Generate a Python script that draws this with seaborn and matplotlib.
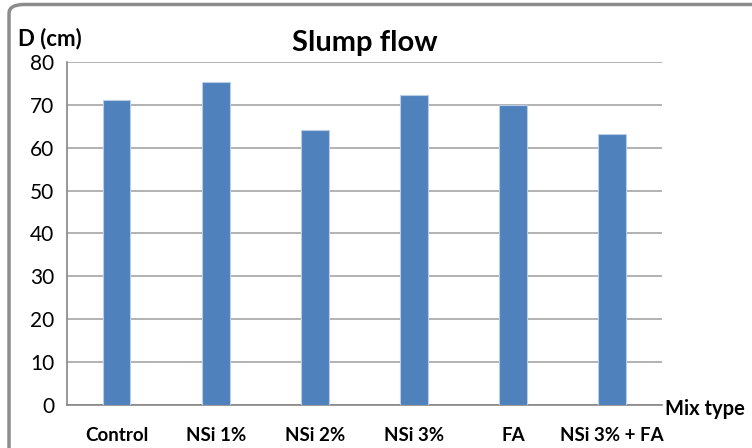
import pandas as pd
import matplotlib.pyplot as plt
import seaborn as sns
from matplotlib.patches import FancyBboxPatch

# Slump flow data
mixes = ["Control", "NSi 1%", "NSi 2%", "NSi 3%", "FA", "NSi 3% + FA"]
diameter = [71.1, 75.3, 64.0, 72.2, 70.0, 63.2]
yticks = [0, 10, 20, 30, 40, 50, 60, 70, 80]

data = pd.DataFrame({"Mix": mixes, "D": diameter})

sns.set_style("white")
plt.rcParams['font.family'] = ['Lato', 'DejaVu Sans']
plt.rcParams['text.color'] = 'black'
plt.rcParams['xtick.color'] = 'black'
plt.rcParams['ytick.color'] = 'black'

fig = plt.figure(figsize=(7.52, 4.48), dpi=100)
ax = fig.add_axes([0.089, 0.096, 0.791, 0.766])

sns.barplot(data=data, x="Mix", y="D", color="#4F81BD", saturation=1, width=0.28,
            edgecolor="#B9CDE5", linewidth=0.8, ax=ax, zorder=3)

ax.set_ylim(0, 80)
ax.set_yticks(yticks)
ax.set_xlim(-0.5, len(mixes) - 0.5)
ax.yaxis.grid(True, color="#A6A6A6", linewidth=1.2, zorder=0)
ax.set_axisbelow(True)
for s in ["top", "right"]:
    ax.spines[s].set_visible(False)
ax.spines["left"].set_color("#868686")
ax.spines["bottom"].set_color("#868686")
ax.spines["left"].set_linewidth(1.2)
ax.spines["bottom"].set_linewidth(1.2)

# category boundary ticks like Excel
ax.set_xticks([i - 0.5 for i in range(len(mixes) + 1)], minor=True)
ax.tick_params(axis="x", which="minor", length=8, color="#868686", width=1)
ax.tick_params(axis="x", which="major", length=0, pad=16)
ax.set_xticks(range(len(mixes)))
ax.set_xticklabels(mixes, fontsize=13.5, fontweight="bold")
ax.tick_params(axis="y", length=5, color="#868686", labelsize=15, pad=4)

ax.set_xlabel("")
ax.set_ylabel("")
ax.set_title("Slump flow", fontsize=21, fontweight="bold", pad=8)
fig.text(0.024, 0.89, "D (cm)", fontsize=16, fontweight="bold", va="bottom")
fig.text(0.884, 0.087, "Mix type", fontsize=14.5, fontweight="bold", va="center")

# outer frame
frame = FancyBboxPatch((0.012, -0.05), 1.05, 1.04, boxstyle="round,pad=0,rounding_size=0.02",
                       transform=fig.transFigure, fill=False, edgecolor="#8C8C8C", linewidth=2.5)
fig.patches.append(frame)

plt.savefig("out.png", dpi=100)
